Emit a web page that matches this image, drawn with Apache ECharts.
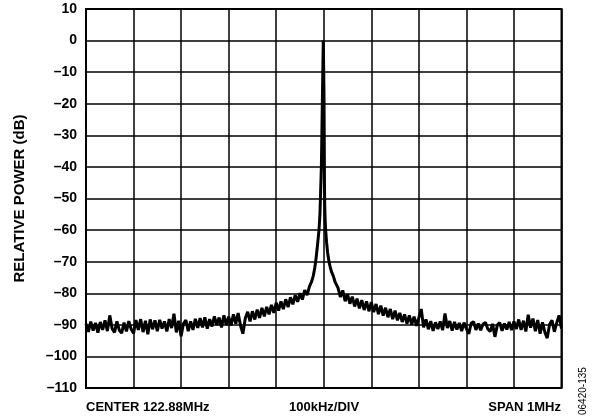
<!DOCTYPE html>
<html>
<head>
<meta charset="UTF-8" />
<title>Relative power spectrum</title>
<script src="https://cdn.jsdelivr.net/npm/echarts@6/dist/echarts.min.js"></script>
<style>
  html, body { margin: 0; padding: 0; background: #fff; }
  #chart { width: 592px; height: 418px; }
</style>
</head>
<body>
<div id="chart"></div>
<script>
// frequency offset from center (kHz), level (dB)
var leftFreq = [];
for (var f = -500; f <= -30; f += 5) leftFreq.push(f);
var leftLevel = [
  -89.6, -92.2, -89.0, -91.8, -89.4, -92.5, -89.1, -91.6, -88.6, -92.0,
  -87.0, -91.2, -92.4, -88.9, -91.7, -92.6, -89.3, -92.1, -88.8, -91.4,
  -92.7, -88.5, -91.6, -88.2, -92.3, -88.7, -93.0, -88.3, -91.4, -88.6,
  -92.0, -88.4, -91.2, -88.9, -92.1, -88.2, -91.0, -86.5, -92.4, -88.7,
  -93.6, -89.6, -88.5, -92.0, -88.9, -91.6, -88.1, -91.0, -87.9, -90.8,
  -87.6, -91.2, -88.2, -90.5, -87.3, -90.1, -87.7, -90.8, -87.0, -90.0,
  -87.4, -90.2, -86.7, -89.6, -86.3, -90.3, -92.8, -87.9, -85.9, -88.9,
  -85.7, -88.3, -85.2, -87.8, -84.6, -87.3, -84.3, -86.7, -83.7, -86.2,
  -83.0, -85.5, -82.6, -85.0, -81.9, -84.4, -81.3, -83.5, -80.6, -82.7,
  -80.0, -82.0, -79.0, -80.6, -77.8
];

var peakFreq = [-26, -22, -19, -17, -14, -12, -10, -8, -7, -5, -4, -3, -2, -1, 0,
  0.5, 1, 1.5, 2, 3, 4, 6, 8, 11, 14, 17, 20, 24];
var peakLevel = [-76.5, -74.5, -72, -70, -66, -63, -60, -55, -50, -40, -30, -20, -10, 0, -0.5,
  -16.6, -30, -45, -52, -57, -60, -64, -67, -70, -72, -73.5, -74.5, -76.5];

var rightFreq = [];
for (var g = 30; g <= 500; g += 5) rightFreq.push(g);
var rightLevel = [
  -78.3, -81.2, -79.1, -82.5, -80.3, -83.3, -81.1, -84.2, -81.7, -84.8,
  -82.2, -85.3, -82.6, -85.7, -82.8, -86.0, -83.4, -86.6, -83.9, -87.1,
  -84.6, -87.6, -85.0, -88.2, -85.5, -88.6, -86.2, -89.1, -86.7, -89.6,
  -87.0, -89.9, -87.4, -90.3, -87.7, -85.0, -90.8, -88.3, -91.4, -88.8,
  -91.9, -89.2, -91.3, -88.9, -91.7, -86.4, -91.0, -88.8, -91.8, -89.1,
  -91.5, -89.4, -92.0, -89.3, -91.2, -92.9, -89.5, -89.0, -91.6, -89.6,
  -91.7, -89.8, -89.2, -91.3, -92.1, -89.7, -93.8, -90.1, -89.3, -91.9,
  -89.6, -91.5, -89.1, -91.7, -88.9, -91.3, -88.3, -91.6, -88.7, -92.1,
  -86.8, -90.9, -88.0, -92.0, -88.5, -92.8, -89.2, -92.3, -94.2, -89.8,
  -88.6, -92.2, -89.3, -87.0, -91.2
];

var bottomLabels = ["CENTER 122.88MHz", "100kHz/DIV", "SPAN 1MHz"];
var figureId = "06420-135";

var trace = [];
leftFreq.forEach(function (f, i) { if (f < -26) trace.push([f, leftLevel[i]]); });
peakFreq.forEach(function (f, i) { trace.push([f, peakLevel[i]]); });
rightFreq.forEach(function (f, i) { trace.push([f, rightLevel[i]]); });

var font = "Liberation Sans, Arial, sans-serif";
var chart = echarts.init(document.getElementById("chart"));
chart.setOption({
  animation: false,
  backgroundColor: "#fff",
  grid: {
    left: 86, right: 30.5, top: 9, bottom: 30,
    show: true, borderColor: "#000", borderWidth: 2, containLabel: false
  },
  xAxis: {
    type: "value", min: -500, max: 500, interval: 100,
    axisLine: { show: false }, axisTick: { show: false }, axisLabel: { show: false },
    splitLine: { lineStyle: { color: "#000", width: 1.5 } }
  },
  yAxis: {
    type: "value", min: -110, max: 10, interval: 10,
    name: "RELATIVE POWER (dB)", nameLocation: "middle", nameGap: 59,
    nameTextStyle: { fontFamily: font, fontWeight: "bold", fontSize: 15, color: "#000" },
    axisLine: { show: false }, axisTick: { show: false },
    axisLabel: {
      fontFamily: font, fontWeight: "bold", fontSize: 14, color: "#000", margin: 9,
      formatter: function (v) { return String(v).replace("-", "\u2013"); }
    },
    splitLine: { lineStyle: { color: "#000", width: 1.5 } }
  },
  series: [{
    type: "line", data: trace, symbol: "none", smooth: false,
    lineStyle: { color: "#000", width: 3 }, z: 5
  }],
  graphic: [
    { type: "text", left: 86, top: 401,
      style: { text: bottomLabels[0], font: "bold 13px " + font, fill: "#000" } },
    { type: "text", left: 289, top: 401,
      style: { text: bottomLabels[1], font: "bold 13px " + font, fill: "#000" } },
    { type: "text", right: 31, top: 401,
      style: { text: bottomLabels[2], font: "bold 13px " + font, fill: "#000" } },
    { type: "text", x: 578, y: 415, rotation: Math.PI / 2,
      style: { text: figureId, font: "10px " + font, fill: "#000" } }
  ]
});
</script>
</body>
</html>
